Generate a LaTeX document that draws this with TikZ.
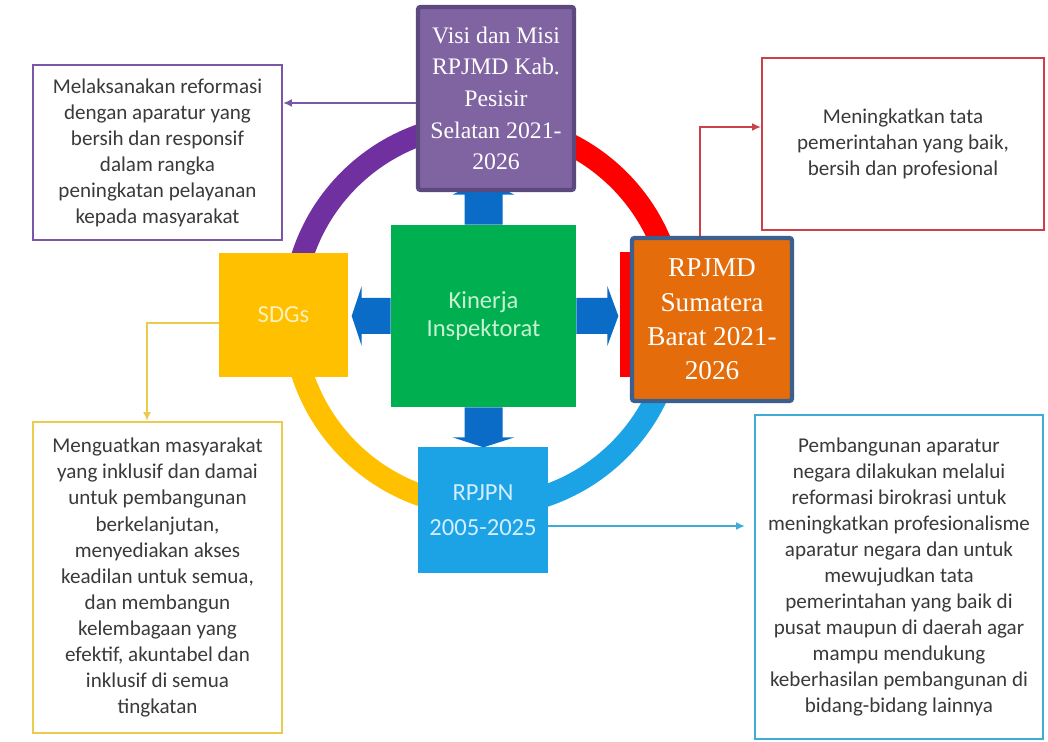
\documentclass[tikz,border=0pt]{standalone}
\usepackage{fontspec}
\setmainfont{Liberation Serif}
\newfontfamily\calibri{Carlito}
\usepackage{xcolor}
\definecolor{ringpurple}{HTML}{7030A0}
\definecolor{ringred}{HTML}{FF0000}
\definecolor{ringblue}{HTML}{1CA3E6}
\definecolor{ringyellow}{HTML}{FFC000}
\definecolor{hubgreen}{HTML}{00B050}
\definecolor{hubtext}{HTML}{C8F0D2}
\definecolor{sdgtext}{HTML}{FFF0B8}
\definecolor{rpjpntext}{HTML}{D2EEFF}
\definecolor{arrowblue}{HTML}{0A6CC6}
\definecolor{visifill}{HTML}{8064A2}
\definecolor{visiedge}{HTML}{5C4A7E}
\definecolor{jambifill}{HTML}{E46C0A}
\definecolor{jambiedge}{HTML}{3B5F8F}
\definecolor{tledge}{HTML}{7A56A6}
\definecolor{tredge}{HTML}{CC4048}
\definecolor{bledge}{HTML}{EBCB4C}
\definecolor{bredge}{HTML}{3EACD6}
\definecolor{notegray}{HTML}{3A3A3A}
\usetikzlibrary{arrows.meta}

\begin{document}
\begin{tikzpicture}[x=0.02cm, y=-0.02cm,
  ring/.style={line width=0.44cm},
  hub/.style={inner sep=0pt, align=center, font=\calibri\fontsize{14}{16}\selectfont},
  plan/.style={draw, line width=2.5pt, rounded corners=1.5pt, inner sep=0pt,
               align=center, text=white},
  note/.style={draw, line width=1.2pt, fill=white, inner sep=0pt, align=center,
               text=notegray, font=\calibri\fontsize{12}{14.8}\selectfont},
  link/.style={line width=1.2pt, -{Latex[length=5pt,width=4.5pt]}},
  blockarr/.style={fill=arrowblue}]

  \fill[white] (0,0) rectangle (1048,742);
  \useasboundingbox (0,0) rectangle (1048,742);

  % the ring
  \coordinate (ctr) at (484,315);
  \draw[ring, ringpurple] (ctr) ++(180:191) arc[start angle=180, end angle=270, radius=191];
  \draw[ring, ringred] (ctr) ++(270:191) arc[start angle=270, end angle=360, radius=191];
  \draw[ring, ringblue] (ctr) ++(0:191) arc[start angle=0, end angle=90, radius=191];
  \draw[ring, ringyellow] (ctr) ++(90:191) arc[start angle=90, end angle=180, radius=191];

  % centre and the four plans
  \node[hub, fill=hubgreen, text=hubtext, minimum width=3.7cm, minimum height=3.64cm]
    (inspek) at (483.5,316) {Kinerja\\Inspektorat};
  \node[hub, fill=ringyellow, text=sdgtext, minimum width=2.58cm, minimum height=2.48cm]
    (sdg) at (283.5,315) {SDGs};
  \node[hub, fill=ringred, minimum width=2.58cm, minimum height=2.5cm]
    (rpjmn) at (684.5,314.5) {};
  \node[hub, fill=ringblue, text=rpjpntext, minimum width=2.6cm, minimum height=2.52cm,
        font=\calibri\fontsize{14}{20}\selectfont]
    (rpjpn) at (483,510) {RPJPN\\2005-2025};

  % block arrows out of the centre
  \fill[blockarr] (inspek.north) ++(-19,0) -- ++(0,-30) -- ++(-12,0) -- ++(31,-15)
    -- ++(31,15) -- ++(-12,0) -- ++(0,30) -- cycle;
  \fill[blockarr] (inspek.west) ++(0,-18) -- ++(-29,0) -- ++(0,-12) -- ++(-10,30)
    -- ++(10,30) -- ++(0,-12) -- ++(29,0) -- cycle;
  \fill[blockarr] (inspek.east) ++(0,-18) -- ++(31,0) -- ++(0,-12) -- ++(11,30)
    -- ++(-11,30) -- ++(0,-12) -- ++(-31,0) -- cycle;
  \fill[blockarr] (inspek.south) ++(-19,0) -- ++(0,30) -- ++(-12,0) -- ++(31,10)
    -- ++(31,-10) -- ++(-12,0) -- ++(0,-30) -- cycle;

  \node[plan, draw=visiedge, fill=visifill, minimum width=3.12cm, minimum height=3.66cm,
        font=\fontsize{13.5}{18}\selectfont]
    (visi) at (496,98.5) {Visi dan Misi\\RPJMD Kab.\\Pesisir\\Selatan 2021-\\2026};
  \node[plan, draw=jambiedge, fill=jambifill, minimum width=3.2cm, minimum height=3.26cm,
        font=\fontsize{15.5}{19.5}\selectfont]
    (jambi) at (712,319.5) {RPJMD\\Sumatera\\Barat 2021-\\2026};

  % the notes
  \node[note, draw=tledge, minimum width=4.98cm, minimum height=3.5cm]
    (tl) at (157.5,152.5) {Melaksanakan reformasi\\dengan aparatur yang\\bersih dan responsif\\
      dalam rangka\\peningkatan pelayanan\\kepada masyarakat};
  \node[note, draw=tredge, minimum width=5.64cm, minimum height=3.44cm]
    (tr) at (903,144) {Meningkatkan tata\\pemerintahan yang baik,\\bersih dan profesional};
  \node[note, draw=bledge, minimum width=4.98cm, minimum height=6.22cm]
    (bl) at (157.5,577.5) {Menguatkan masyarakat\\yang inklusif dan damai\\untuk pembangunan\\
      berkelanjutan,\\menyediakan akses\\keadilan untuk semua,\\dan membangun\\
      kelembagaan yang\\efektif, akuntabel dan\\inklusif di semua\\tingkatan};
  \node[note, draw=bredge, minimum width=5.76cm, minimum height=6.48cm]
    (br) at (899,577) {Pembangunan aparatur\\negara dilakukan melalui\\reformasi birokrasi untuk\\
      meningkatkan profesionalisme\\aparatur negara dan untuk\\mewujudkan tata\\
      pemerintahan yang baik di\\pusat maupun di daerah agar\\mampu mendukung\\
      keberhasilan pembangunan di\\bidang-bidang lainnya};

  % connectors
  \coordinate (rbend) at (700,127);
  \coordinate (ybend) at (147,323);
  \coordinate (bbend) at (745,526);
  \coordinate (pbend) at (300,103);
  \draw[link, tledge] (visi.west |- pbend) -- (tl.east |- pbend);
  \draw[link, tredge] (jambi.north -| rbend) |- (tr.west |- rbend);
  \draw[link, bledge] (sdg.west |- ybend) -| (bl.north -| ybend);
  \draw[link, bredge] (rpjpn.east |- bbend) -- (bbend);
\end{tikzpicture}
\end{document}
